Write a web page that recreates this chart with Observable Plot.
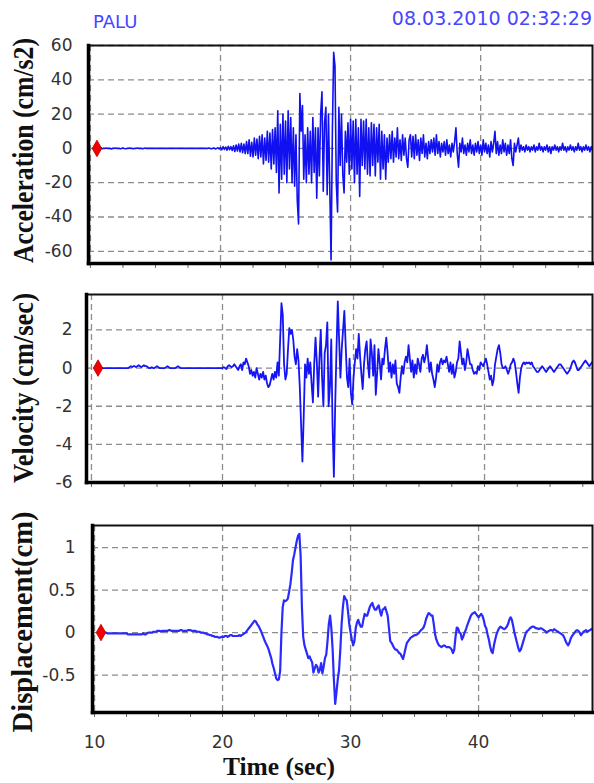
<!DOCTYPE html>
<html><head><meta charset="utf-8">
<script src="https://cdn.jsdelivr.net/npm/d3@7"></script>
<script src="https://cdn.jsdelivr.net/npm/@observablehq/plot@0.6"></script>
<style>
html,body{margin:0;padding:0;background:#fff;}
#fig{position:relative;width:594px;height:783px;overflow:hidden;background:#fff;}
#fig > svg{position:absolute;left:0;}
</style></head><body><div id="fig"></div>
<script>
// ---------- data ----------
const station = "PALU";
const stamp = "08.03.2010 02:32:29";
const sampleStart = 10.5;   // s, first sample (red marker)
const sampleStep = 0.1;     // s

const acceleration = [
 0,0,0,0.3,-0.2,0,0,0.2,0,0,
 0,-0.3,0,0,0.2,0,0,0,-0.2,0,
 0.3,0,-0.2,0,0,0.2,0,0,-0.2,0,
 0,0.2,0,0,0,-0.2,0,0.2,0,0,
 0,0,0,0,0,0,0,0,0,0,
 0,0,0,0,0,0,0,0,0,0,
 0,0,0,0,0,0,0,0,0,0,
 0,0,0,0,0,0,0,0,0,0,
 0,0,0,0,0,0,0.2,0,-0.2,0,
 0.3,-0.3,0,0.4,-0.3,
 0.5,-0.8,1,-0.6,0.8,-1,1.2,-0.8,1,-1.2,
 1.5,-1.8,2,-1.5,2.5,-2,3,-2.5,2.5,-3,
 4,-3,5,-4.5,3.5,-5,6,-4,5.5,-6,
 7,-5,8,-9,6,-7,10,-8,9,-12,
 11,-9,12,-14,22,-26,14,-18,20,-15,
 16,-20,22,-12,18,-20,12,-22,8,-30,
 -44,32,10,25,-18,8,-20,12,-15,10,
 -20,18,-14,12,-29,12,-16,20,33,-25,
 15,24,-27,20,-22,-65,10,56,48,-20,
 -37,24,-10,20,-15,-26,10,-8,15,-15,
 17,-12,16,-20,17,-15,12,-28,17,-10,
 16,-12,17,-15,12,-16,15,-10,14,-16,
 12,-8,14,-18,10,-12,8,-18,6,-8,
 8,-6,10,-8,6,-5,12,-6,5,-7,
 8,-4,6,-6,-11,5,8,-5,7,-6,
 8,-4,5,-7,6,-3,8,-5,3,-6,
 4,-3,5,-2,6,-4,8,-3,4,-5,
 3,-2,4,-4,5,-3,2,-5,3,-2,
 4,12,-3,-11,3,-2,6,-3,2,-4,
 3,-2,5,-3,2,-4,3,-2,4,-3,
 2,-4,5,-2,3,-3,2,-5,4,-2,
 3,10,-3,4,-4,2,-3,5,-2,3,
 -4,2,-3,5,-6,-10,3,-2,2,6,
 -2,2,-1,1,-2,2,-1,1,-2,1,
 -1,2,-2,1,-1,3,-1,1,-2,1,
 -1,2,-2,1,-3,1,-1,2,-1,1,
 -2,1,-1,3,-1,1,-2,1,-1,2,
 -1,1,-2,1,-1,3,-1,1,-2,1,
 -1,2,-1,1,-2,1,-1
];

const velocity = [
 0,0,0,0,0,0,0,0,0,0,
 0,0,0,0,0,0,0,0,0,0,
 0,0,0,0,0.05,0.1,0.05,0.1,0.1,0.05,
 0.1,0.15,0.1,0.05,0.1,0.15,0.1,0.1,0.05,0,
 0,0.05,0,0,0.05,0.1,0.05,0,0,0,
 0,0,0.05,0.1,0.05,0,0,0,0,0,
 0.05,0.1,0.05,0,0,0,0,0,0,0,
 0,0,0,0,0,0,0,0,0,0,
 0,0,0,0,0,0,0,0,0,0,
 0,0,0,0,0,
 0,0.05,0,-0.05,0.1,0.15,0.1,0.05,0.1,0.2,
 0.1,0,-0.1,0.1,0.2,-0.1,0.3,0.2,0.5,0.3,
 0.1,-0.3,-0.1,-0.4,-0.2,-0.5,0,-0.3,-0.6,-0.3,
 -0.5,-0.2,-0.6,-0.4,-0.8,-1.0,-0.9,-0.6,-0.3,-0.6,
 -0.2,-0.5,0.3,-0.4,1.5,3.4,2.8,0.2,-0.6,-0.3,
 1.0,2.1,1.8,2.0,1.5,0.6,0.2,1.0,0.4,-1.0,
 -3.0,-4.9,-2.5,0.2,-0.5,0.5,-0.3,0.3,-0.8,-1.8,
 0.2,1.6,0.3,-1.5,0.5,2.0,-0.5,-2.0,0.8,1.2,
 2.4,-2.0,-1.0,1.5,-3.0,-5.7,-2.0,1.0,3.5,1.5,
 -0.5,1.0,2.0,3.0,1.2,-0.5,-1.0,0.5,-1.3,-1.9,
 -0.5,0.3,1.0,0.5,1.8,0.6,-0.3,-1.1,0.2,1.0,
 1.4,0.2,-0.5,1.5,0.8,-0.4,1.2,-1.4,-0.3,1.0,
 0.3,-0.6,0.5,0.2,1.0,1.6,0.8,-0.2,0.3,-0.5,
 0.2,-0.3,0.4,-0.8,-1.0,-1.3,-0.5,0.1,-0.3,0.3,
 0.6,0.3,1.2,0.5,-0.2,0.4,-0.5,0.2,-0.3,0.5,
 0.2,-0.2,0.5,0.7,0.3,0.6,1.2,0.5,-0.2,0.3,
 -0.3,-0.6,-1.0,-0.5,0.2,-0.2,0.3,0.5,0.2,0.4,
 0.3,0.6,0.2,-0.2,0.3,-0.3,0.2,-0.5,-0.2,0.3,
 0.5,1.4,0.8,0.2,0.5,-0.1,0.3,1.0,0.6,0.2,
 0.2,-0.1,-0.3,-0.2,-0.3,0.1,-0.1,0.3,0.2,0.1,
 0.3,0.5,0.2,-0.2,-0.6,-0.4,-0.9,-0.6,0.2,0.6,
 1.0,1.2,0.8,0.2,0,0,0.1,-0.1,-0.3,-0.1,
 0.2,0.3,0.5,0.3,-0.2,-0.8,-1.3,-0.5,0,0.2,
 0.3,0.2,0.3,0.25,0.3,0.2,0.3,0.1,0,-0.1,
 -0.2,-0.2,-0.1,0,0.1,0,-0.1,-0.2,-0.1,0,
 0.1,0,-0.1,-0.2,-0.1,0,0.1,0.2,0.2,0.1,
 0,-0.1,-0.2,-0.3,-0.2,-0.1,0.1,0.3,0.4,0.3,
 0.1,-0.1,-0.1,0,0.1,0.2,0.3,0.4,0.3,0.2,
 0.1,0.2,0.3,0.2,0.1,0.2,0.3
];

const displacement = [
 0,0,0,0,0,-0.01,-0.01,-0.01,-0.01,-0.01,
 -0.01,-0.01,-0.01,-0.01,-0.01,-0.01,-0.01,-0.01,-0.01,-0.01,
 -0.01,-0.02,-0.02,-0.02,-0.02,-0.02,-0.02,-0.02,-0.02,-0.02,
 -0.02,-0.02,-0.02,-0.01,-0.02,-0.02,-0.01,0,0,0,
 0,0.01,0.01,0.01,0.02,0.02,0.02,0.01,0.02,0.02,
 0.02,0.02,0.02,0.03,0.03,0.02,0.02,0.02,0.02,0.02,
 0.02,0.02,0.03,0.03,0.02,0.02,0.02,0.02,0.03,0.03,
 0.03,0.02,0.02,0.02,0.02,0.01,0.01,0.01,0,0,
 0,-0.01,-0.01,-0.02,-0.02,-0.03,-0.03,-0.04,-0.04,-0.05,
 -0.05,-0.05,-0.06,-0.06,-0.05,
 -0.05,-0.05,-0.04,-0.04,-0.05,-0.04,-0.03,-0.03,-0.04,-0.04,
 -0.04,-0.04,-0.04,-0.03,-0.04,-0.03,-0.02,-0.01,0,0.02,
 0.04,0.06,0.08,0.1,0.12,0.14,0.13,0.1,0.08,0.05,
 0.02,-0.02,-0.06,-0.1,-0.13,-0.16,-0.2,-0.25,-0.3,-0.37,
 -0.42,-0.48,-0.54,-0.56,-0.55,-0.45,0.0,0.3,0.38,0.37,
 0.38,0.4,0.48,0.57,0.7,0.85,0.92,1.0,1.08,1.14,
 1.16,0.9,0.3,-0.05,-0.15,-0.2,-0.25,-0.3,-0.28,-0.32,
 -0.35,-0.47,-0.42,-0.38,-0.4,-0.47,-0.44,-0.36,-0.48,-0.4,
 -0.3,-0.26,-0.1,0.1,0.2,0.05,-0.2,-0.56,-0.84,-0.7,
 -0.55,-0.44,-0.2,0.1,0.3,0.43,0.4,0.38,0.25,0.1,
 0,-0.08,-0.15,-0.1,0.05,0.12,0.15,0.1,0.07,0.07,
 0.15,0.22,0.2,0.2,0.25,0.3,0.33,0.35,0.3,0.27,
 0.27,0.3,0.32,0.25,0.2,0.27,0.28,0.3,0.25,0.2,
 0.05,-0.1,-0.12,-0.15,-0.18,-0.2,-0.2,-0.22,-0.24,-0.25,
 -0.28,-0.31,-0.25,-0.18,-0.12,-0.1,-0.08,-0.06,-0.05,-0.04,
 -0.03,-0.03,-0.02,-0.01,0.01,0.03,0.04,0.06,0.1,0.16,
 0.2,0.23,0.22,0.2,0.2,0.1,-0.02,-0.08,-0.12,-0.15,
 -0.16,-0.17,-0.16,-0.15,-0.16,-0.17,-0.17,-0.17,-0.18,-0.2,
 -0.24,-0.2,-0.05,0.06,0.05,0,-0.01,-0.08,-0.05,0,
 0.03,0.08,0.12,0.16,0.2,0.22,0.23,0.24,0.22,0.2,
 0.18,0.2,0.22,0.2,0.15,0.08,0.05,-0.02,-0.08,-0.16,
 -0.22,-0.24,-0.15,-0.08,-0.02,0.02,0.05,0.07,0.06,0.05,
 0.04,0.05,0.07,0.1,0.15,0.18,0.15,0.08,0,-0.06,
 -0.12,-0.18,-0.22,-0.2,-0.15,-0.1,-0.05,0,0.02,0.03,
 0.05,0.06,0.07,0.07,0.06,0.05,0.05,0.04,0.05,0.05,
 0.04,0.03,0.02,0,0.01,0.02,0.03,0.03,0.02,0.04,
 0.03,0.02,0.01,0,-0.01,-0.02,-0.03,-0.06,-0.1,-0.13,
 -0.15,-0.12,-0.07,-0.04,-0.02,0,0.02,0.03,0.02,0,
 -0.03,-0.01,0.01,0.02,0.03,0.01,0.02,0.03,0.04,0.04
];

const xTicks = [10, 20, 30, 40];
const xMinorTicks = [10,12.5,15,17.5,20,22.5,25,27.5,30,32.5,35,37.5,40,42.5,45,47.5];
const accelTicks = [60, 40, 20, 0, -20, -40, -60];
const velTicks = [2, 0, -2, -4, -6];
const dispTicks = [1, 0.5, 0, -0.5];
const panelTitles = ["Acceleration (cm/s2)", "Velocity (cm/sec)", "Displacement(cm)"];
const xTitle = "Time (sec)";

// ---------- layout ----------
const W = 594;
const panels = [
  {values: acceleration, ticks: accelTicks, xDomain: [9.85, 48.6], yDomain: [-67.1, 60],
   top: 30, height: 250, mt: 15, mb: 17, ml: 88, pad: 16, stroke: "#1010f0", sw: 1.6,
   title: panelTitles[0], tLen: 225, tCenter: 150.5, tX: 33, labels: false},
  {values: velocity, ticks: velTicks, xDomain: [9.62, 48.24], yDomain: [-6, 3.86],
   top: 280, height: 220, mt: 14, mb: 18, ml: 86, pad: 14, stroke: "#1414f4", sw: 1.8,
   title: panelTitles[1], tLen: 190, tCenter: 388, tX: 33, labels: false},
  {values: displacement, ticks: dispTicks, xDomain: [9.84, 48.9], yDomain: [-0.94, 1.26],
   top: 500, height: 283, mt: 25, mb: 71, ml: 92, pad: 17, stroke: "#2a2aff", sw: 2.2,
   title: panelTitles[2], tLen: 221, tCenter: 622, tX: 32, labels: true}
];

const fmt = d => (d < 0 ? "-" : "") + Math.abs(d);
const gridStyle = {stroke: "#8c8c8c", strokeOpacity: 1, strokeDasharray: "6,4", strokeWidth: 1.3};
const fig = document.getElementById("fig");

for (const p of panels) {
  const series = p.values.map((v, i) => ({t: +(sampleStart + i * sampleStep).toFixed(2), v}));
  const marks = [
    Plot.gridX(xTicks, gridStyle),
    Plot.gridY(p.ticks, gridStyle),
    Plot.axisY(p.ticks, {tickSize: 0, tickPadding: p.pad, fontSize: 17, fill: "#333",
      tickFormat: fmt, label: null}),
    Plot.axisX(xMinorTicks, {tickSize: 5, stroke: "#666", tickFormat: () => "", label: null}),
    Plot.line(series, {x: "t", y: "v", stroke: p.stroke, strokeWidth: p.sw, clip: true}),
    Plot.dot([{t: sampleStart, v: 0}], {x: "t", y: "v", symbol: "diamond", r: 5,
      fill: "#f00000", stroke: "#b00000", strokeWidth: 0.8}),
    Plot.frame({stroke: "#111", strokeWidth: 2}),
    Plot.frame({anchor: "left", stroke: "#000", strokeWidth: 3.5}),
    Plot.frame({anchor: "bottom", stroke: "#000", strokeWidth: 3.5})
  ];
  if (p.labels) {
    marks.push(Plot.axisX(xTicks, {tickSize: 0, tickPadding: 23, fontSize: 17, fill: "#333", label: null}));
  }
  const chart = Plot.plot({
    width: W, height: p.height,
    marginLeft: p.ml, marginRight: 2, marginTop: p.mt, marginBottom: p.mb,
    x: {domain: p.xDomain, label: null},
    y: {domain: p.yDomain, label: null},
    style: {fontFamily: "DejaVu Sans", background: "transparent", color: "#333"},
    marks
  });
  chart.style.top = p.top + "px";
  fig.appendChild(chart);
}

// ---------- titles / labels overlay ----------
const svg = d3.select(fig).append("svg")
  .attr("width", W).attr("height", 783)
  .style("top", "0px").style("pointer-events", "none");

svg.append("text").attr("x", 93).attr("y", 28)
  .attr("font-family", "DejaVu Sans").attr("font-size", 18).attr("fill", "#4646ff")
  .text(station);
svg.append("text").attr("x", 592).attr("y", 25).attr("text-anchor", "end")
  .attr("font-family", "DejaVu Sans").attr("font-size", 19).attr("fill", "#4646ff")
  .text(stamp);

for (const p of panels) {
  svg.append("text")
    .attr("transform", `translate(${p.tX},${p.tCenter}) scale(1.15,1) rotate(-90)`)
    .attr("text-anchor", "middle")
    .attr("font-family", "Liberation Serif").attr("font-weight", "bold").attr("font-size", 26)
    .attr("fill", "#111")
    .attr("textLength", p.tLen).attr("lengthAdjust", "spacingAndGlyphs")
    .text(p.title);
}
svg.append("text").attr("x", 279).attr("y", 775).attr("text-anchor", "middle")
  .attr("font-family", "Liberation Serif").attr("font-weight", "bold").attr("font-size", 25)
  .attr("fill", "#111").attr("textLength", 112).attr("lengthAdjust", "spacingAndGlyphs")
  .text(xTitle);
</script></body></html>
